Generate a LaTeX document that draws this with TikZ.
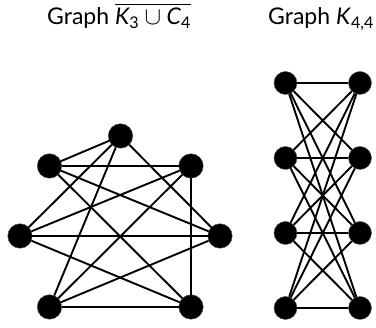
\documentclass[tikz,border=0pt]{standalone}
\usepackage{amsmath}
\usepackage{fontspec}
\setmainfont{Lato}
\begin{document}
\begin{tikzpicture}[x=1pt,y=-1pt,
  vtx/.style={circle,fill=black,draw=black!70,line width=0.4pt,inner sep=0pt,minimum size=24.5pt},
  vtxs/.style={circle,fill=black,draw=black!70,line width=0.4pt,inner sep=0pt,minimum size=23pt},
  edge/.style={line width=1.9pt,black},
  title/.style={anchor=base west,inner sep=0pt,font=\fontsize{23}{27}\selectfont}]
\useasboundingbox (0,0) rectangle (376,328);
% titles
\node[title] (t1) at (47,25) {Graph $\overline{\text{\itshape K}_{\text{3}}\cup\text{\itshape C}_{\text{4}}}$};
\node[title] (t2) at (268,25) {Graph \textit{K}$_{\text{4,4}}$};
% left graph
\node[vtx] (T)  at (120.5,136) {};
\node[vtx] (UL) at (49.5,166) {};
\node[vtx] (UR) at (191,166) {};
\node[vtx] (ML) at (20,236) {};
\node[vtx] (MR) at (220,236) {};
\node[vtx] (BL) at (49.5,307) {};
\node[vtx] (BR) at (191,307) {};
\foreach \a/\b in {T/UL,T/ML,T/BL,T/MR,UL/UR,UL/MR,UL/BR,UR/ML,UR/BL,UR/BR,ML/MR,ML/BR,BL/BR,BL/MR}
  \draw[edge] (\a) -- (\b);
% right graph
\foreach \i/\y in {1/83,2/158,3/233,4/308}{
  \node[vtxs] (L\i) at (285.5,\y) {};
  \node[vtxs] (R\i) at (360,\y) {};
}
\foreach \i in {1,...,4}
  \foreach \j in {1,...,4}
    \draw[edge] (L\i) -- (R\j);
\end{tikzpicture}
\end{document}
